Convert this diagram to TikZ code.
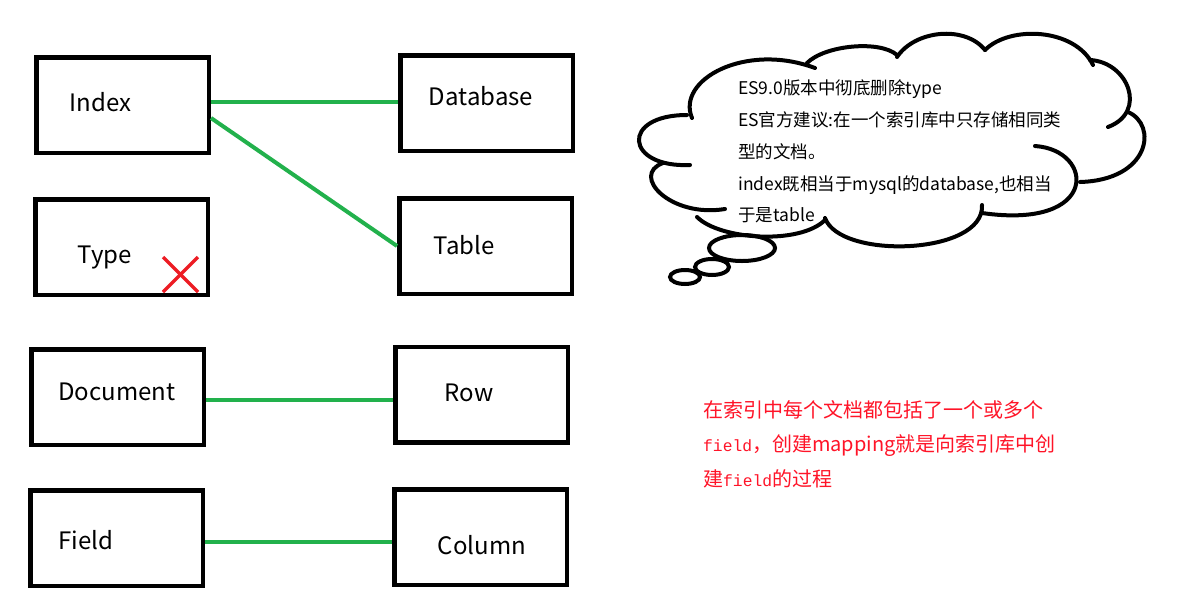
\documentclass[tikz,border=0pt]{standalone}
\usepackage{fontspec}
\setmainfont{Noto Sans CJK SC}
\newfontfamily\monof{Liberation Mono}
\usetikzlibrary{calc}
\definecolor{paintgreen}{RGB}{34,177,76}
\definecolor{paintred}{RGB}{237,28,36}
\definecolor{notered}{RGB}{255,20,40}
\tikzset{
  box/.style={draw=black, line width=4.5pt, minimum width=172.5pt, minimum height=95.5pt, inner sep=0pt},
  lbl/.style={anchor=base, inner sep=0pt, font=\fontsize{24}{28}\selectfont},
  link/.style={draw=paintgreen, line width=4pt},
  cloudline/.style={draw=black, line width=4pt, line cap=round},
  cloudtxt/.style={anchor=base west, inner sep=0pt, font=\fontsize{17.5}{20}\selectfont},
  notetxt/.style={anchor=base west, inner sep=0pt, text=notered, font=\fontsize{20}{22}\selectfont},
  cross/.style={draw=paintred, line width=3.5pt}
}
\begin{document}
\begin{tikzpicture}[x=1pt, y=-1pt]
\useasboundingbox (0,0) rectangle (1183,611);
\fill[white] (0,0) rectangle (1183,611);

% boxes
\node[box] (index) at (122.5,105) {};
\node[box] (database) at (486.5,103) {};
\node[box] (type) at (121.5,247) {};
\node[box] (table) at (485.5,246) {};
\node[box] (document) at (117.5,397) {};
\node[box] (row) at (481.5,394.5) {};
\node[box] (field) at (116.5,538) {};
\node[box] (column) at (480.5,537) {};

% labels
\node[lbl] (tindex) at (100.5,111) {Index};
\node[lbl] (tdatabase) at (481,105) {Database};
\node[lbl] (ttype) at (105,263) {Type};
\node[lbl] (ttable) at (464,254) {Table};
\node[lbl] (tdocument) at (117,400) {Document};
\node[lbl] (trow) at (469,401) {Row};
\node[lbl] (tfield) at (86,549) {Field};
\node[lbl] (tcolumn) at (482,554) {Column};

% red cross
\coordinate (x1) at (163,257);
\coordinate (x2) at (198,292);
\coordinate (x3) at (163,292);
\coordinate (x4) at (198,257);
\draw[cross] (x1) -- (x2);
\draw[cross] (x3) -- (x4);

% green connectors
\draw[link] ($(index.east)+(0,-3)$) -- ($(index.east -| database.west)+(0,-3)$);
\draw[link] ($(index.east)+(0,13)$) -- (table.west);
\draw[link] ($(document.east)+(0,3)$) -- ($(document.east -| row.west)+(0,3)$);
\draw[link] ($(field.east)+(0,4)$) -- ($(field.east -| column.west)+(0,4)$);

% cloud
\draw[cloudline] (692,118) .. controls (676,80) and (745,42) .. (815,68);
\draw[cloudline] (807,63) .. controls (825,45) and (880,40) .. (897,55);
\draw[cloudline] (897,57) .. controls (915,30) and (965,25) .. (985,50);
\draw[cloudline] (985,50) .. controls (1010,25) and (1075,28) .. (1093,65);
\draw[cloudline] (1090,60) .. controls (1128,62) and (1148,112) .. (1108,127);
\draw[cloudline] (1128,112) .. controls (1158,125) and (1150,180) .. (1080,182);
\draw[cloudline] (1035,146) .. controls (1095,150) and (1100,230) .. (982,213);
\draw[cloudline] (982,205) .. controls (985,255) and (840,260) .. (825,218);
\draw[cloudline] (825,220) .. controls (800,245) and (720,240) .. (697,217);
\draw[cloudline] (725,209) .. controls (670,218) and (630,175) .. (663,163);
\draw[cloudline] (690,165) .. controls (625,168) and (620,115) .. (687,115);
\draw[cloudline] (742,248) ellipse [x radius=33, y radius=13];
\draw[cloudline] (712,267) ellipse [x radius=17, y radius=8];
\draw[cloudline] (685,277) ellipse [x radius=15, y radius=7];

\node[cloudtxt] (c1) at (738,94) {ES9.0版本中彻底删除type};
\node[cloudtxt] (c2) at (738,126) {ES官方建议:在一个索引库中只存储相同类};
\node[cloudtxt] (c3) at (738,158) {型的文档。};
\node[cloudtxt] (c4) at (738,190) {index既相当于mysql的database,也相当};
\node[cloudtxt] (c5) at (738,221) {于是table};

% red note
\node[notetxt] (n1) at (703,417) {在索引中每个文档都包括了一个或多个};
\node[notetxt] (n2) at (703,451) {{\monof\fontsize{16.3}{20}\selectfont field}，创建mapping就是向索引库中创};
\node[notetxt] (n3) at (703,486) {建{\monof\fontsize{16.3}{20}\selectfont field}的过程};
\end{tikzpicture}
\end{document}
